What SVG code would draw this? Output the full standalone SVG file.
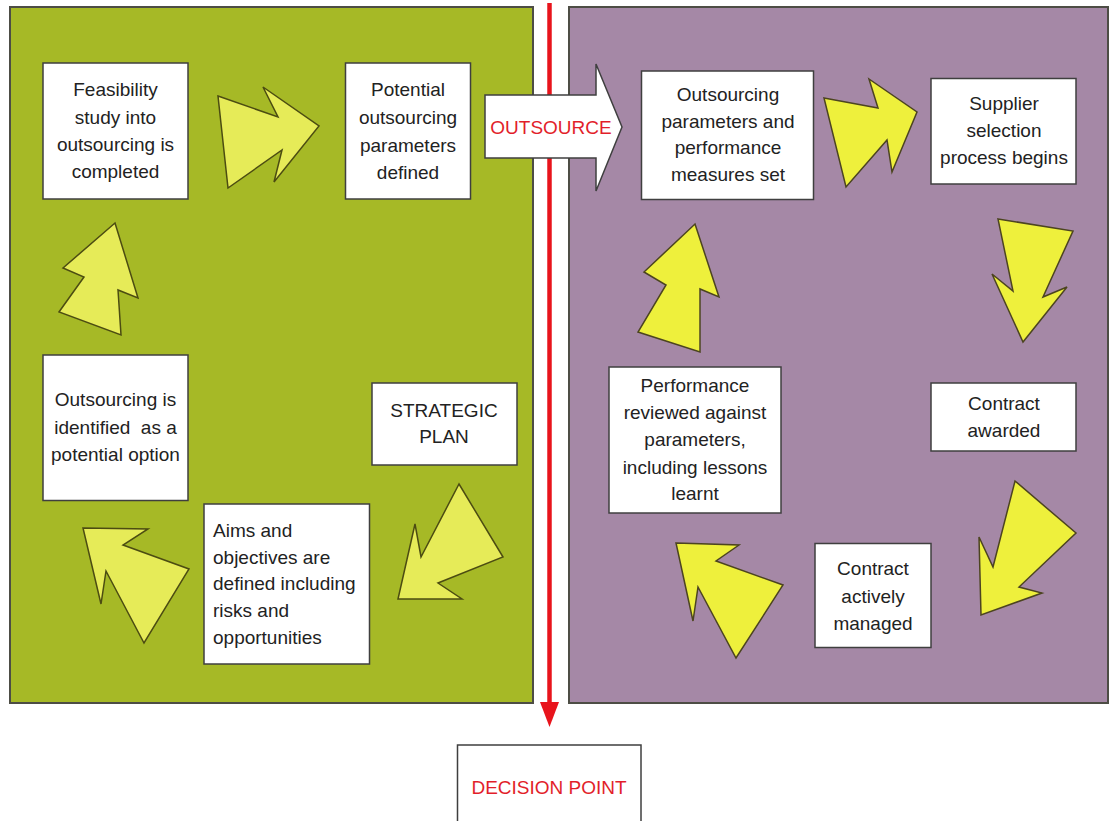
<svg xmlns="http://www.w3.org/2000/svg" width="1115" height="821" viewBox="0 0 1115 821">
  <style>
    .panel { stroke: #4d4d45; stroke-width: 2; }
    .box { fill: #ffffff; stroke: #3f3f3f; stroke-width: 1.5; }
    .t { font-family: "Liberation Sans", Arial, sans-serif; font-size: 19px; fill: #222222; text-anchor: middle; }
    .tl { text-anchor: start; }
    .red { fill: #e21e2a; }
    .ag { fill: #e6eb58; stroke: #4c4c12; stroke-width: 1.5; stroke-linejoin: miter; }
    .ap { fill: #eef03c; stroke: #4c4420; stroke-width: 1.5; stroke-linejoin: miter; }
  </style>

  <rect width="1115" height="821" fill="#ffffff"/>

  <!-- background panels -->
  <g id="panel-internal">
    <rect class="panel" x="10" y="7" width="523" height="696" fill="#a6b926"/>
  </g>
  <g id="panel-external">
    <rect class="panel" x="569" y="7" width="539" height="696" fill="#a588a6"/>
  </g>

  <!-- decision line and cycle arrows -->
  <g id="connectors">
    <line x1="549.5" y1="3" x2="549.5" y2="704" stroke="#e8141c" stroke-width="4.5"/>
    <polygon points="540,702 559,702 549.5,727" fill="#e8141c"/>

    <!-- internal cycle -->
    <polygon class="ag" points="218,96 278,117 263,87 319,126 274,182 282,150 228,188"/>
    <polygon class="ag" points="115,223 138,298 118,290 121,335 59,312 84,277 63,268"/>
    <polygon class="ag" points="83,528 148,529 123,545 189,569 144,643 106,571 101,604"/>
    <polygon class="ag" points="459,484 503,557 438,583 462,599 398,599 415,524 421,557"/>

    <!-- external cycle -->
    <polygon class="ap" points="824,98 878,108 869,79 917,112 892,172 887,140 846,187"/>
    <polygon class="ap" points="998,219 1073,231 1043,297 1067,287 1023,342 992,274 1013,291"/>
    <polygon class="ap" points="1015,481 1076,533 1019,587 1042,593 981,615 979,537 993,567"/>
    <polygon class="ap" points="676,543 739,545 716,561 783,585 736,658 698,587 693,621"/>
    <polygon class="ap" points="695,224 719,297 700,289 700,352 638,332 666,285 644,272"/>
  </g>

  <g id="outsource">
    <polygon points="485,95 596,95 596,64 622,127 596,191 596,158 485,158" fill="#ffffff" stroke="#3f3f3f" stroke-width="1.5"/>
    <text class="t red" x="551" y="133.5" font-size="18">OUTSOURCE</text>
  </g>

  <g id="feasibility">
    <rect class="box" x="43" y="63" width="145" height="136"/>
    <text class="t" x="115.5"><tspan x="115.5" y="95.5">Feasibility</tspan><tspan x="115.5" y="123.5">study into</tspan><tspan x="115.5" y="150.5">outsourcing is</tspan><tspan x="115.5" y="177.5">completed</tspan></text>
  </g>

  <g id="potential-parameters">
    <rect class="box" x="345.5" y="63" width="125" height="136"/>
    <text class="t" x="408"><tspan x="408" y="96">Potential</tspan><tspan x="408" y="124">outsourcing</tspan><tspan x="408" y="151.5">parameters</tspan><tspan x="408" y="178.5">defined</tspan></text>
  </g>

  <g id="identified">
    <rect class="box" x="43" y="355" width="145" height="145.5"/>
    <text class="t" x="115.5"><tspan x="115.5" y="406">Outsourcing is</tspan><tspan x="115.5" y="434">identified&#160; as a</tspan><tspan x="115.5" y="460.5">potential option</tspan></text>
  </g>

  <g id="strategic-plan">
    <rect class="box" x="372" y="383" width="145" height="82"/>
    <text class="t" x="444"><tspan x="444" y="417">STRATEGIC</tspan><tspan x="444" y="443">PLAN</tspan></text>
  </g>

  <g id="aims">
    <rect class="box" x="204" y="504" width="165.5" height="160"/>
    <text class="t tl" x="213"><tspan x="213" y="537">Aims and</tspan><tspan x="213" y="563.5">objectives are</tspan><tspan x="213" y="589.5">defined including</tspan><tspan x="213" y="617">risks and</tspan><tspan x="213" y="643.5">opportunities</tspan></text>
  </g>

  <g id="measures-set">
    <rect class="box" x="641.5" y="71" width="172" height="128.5"/>
    <text class="t" x="728"><tspan x="728" y="101">Outsourcing</tspan><tspan x="728" y="127.5">parameters and</tspan><tspan x="728" y="154">performance</tspan><tspan x="728" y="181">measures set</tspan></text>
  </g>

  <g id="supplier-selection">
    <rect class="box" x="931" y="78.5" width="145" height="105.5"/>
    <text class="t" x="1004"><tspan x="1004" y="110">Supplier</tspan><tspan x="1004" y="137">selection</tspan><tspan x="1004" y="163.5">process begins</tspan></text>
  </g>

  <g id="contract-awarded">
    <rect class="box" x="931" y="383" width="145" height="68"/>
    <text class="t" x="1004"><tspan x="1004" y="410">Contract</tspan><tspan x="1004" y="437">awarded</tspan></text>
  </g>

  <g id="performance-review">
    <rect class="box" x="609" y="367" width="172" height="146"/>
    <text class="t" x="695"><tspan x="695" y="392">Performance</tspan><tspan x="695" y="418.5">reviewed against</tspan><tspan x="695" y="446">parameters,</tspan><tspan x="695" y="473.5">including lessons</tspan><tspan x="695" y="500">learnt</tspan></text>
  </g>

  <g id="contract-managed">
    <rect class="box" x="815" y="543.5" width="116" height="104"/>
    <text class="t" x="873"><tspan x="873" y="575">Contract</tspan><tspan x="873" y="603">actively</tspan><tspan x="873" y="630">managed</tspan></text>
  </g>

  <g id="decision-point">
    <rect class="box" x="457.5" y="745" width="183.5" height="90"/>
    <text class="t red" x="549" y="794" font-size="18.5">DECISION POINT</text>
  </g>
</svg>
